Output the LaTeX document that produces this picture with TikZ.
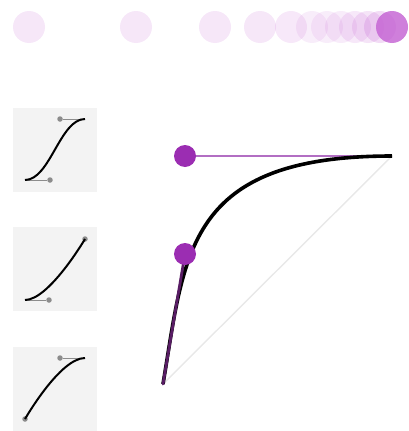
\documentclass[tikz,border=0pt]{standalone}
\usetikzlibrary{positioning,calc}
\definecolor{easePurple}{RGB}{155,45,178}
\definecolor{easeDark}{RGB}{88,28,100}
\definecolor{easeLight}{RGB}{178,110,195}
\definecolor{easeGhost}{RGB}{195,95,210}
\definecolor{thumbBg}{RGB}{243,243,243}

\begin{document}
\begin{tikzpicture}[x=1pt, y=-1pt,
  thumb/.style={fill=thumbBg, draw=none, minimum size=84pt, inner sep=0pt},
  knob/.style={circle, fill=easePurple, minimum size=22pt, inner sep=0pt},
  dot/.style={circle, fill=gray!90, minimum size=5.5pt, inner sep=0pt},
  ghost/.style={circle, fill=easeGhost, minimum size=32pt, inner sep=0pt},
  curve/.style={line width=3.6pt, black},
  mini/.style={line width=2pt, black},
  arm/.style={gray!90, line width=1pt}
]
\useasboundingbox (0,0) rectangle (409,431);

% moving ball frames
\foreach \x/\o in {29/0.15,136/0.15,215/0.15,260/0.15,291/0.14,312/0.11,
                   327/0.11,341/0.12,355/0.14,368/0.17,380/0.22,392/0.8}
  \node[ghost, fill opacity=\o] (g\x) at (\x,27) {};

% thumbnails
\node[thumb] (T1) at (55,150) {};
\node[thumb] (T2) at (55,269) {};
\node[thumb] (T3) at (55,389) {};

% ease-in-out
\coordinate (a1) at (25,180);
\coordinate (b1) at (85,119);
\node[dot] (p1) at (50,180) {};
\node[dot] (q1) at (60,119) {};
\draw[arm] (a1) -- (p1);
\draw[arm] (b1) -- (q1);
\draw[mini] (a1) .. controls (50,180) and (60,119) .. (b1);

% ease-in
\coordinate (a2) at (25,300);
\node[dot] (p2) at (49,300) {};
\node[dot] (b2) at (85,239) {};
\draw[arm] (a2) -- (p2);
\draw[mini] (a2) .. controls (49,300) and (85,239) .. (b2.center);

% ease-out
\node[dot] (a3) at (25,419) {};
\coordinate (b3) at (85,358);
\node[dot] (q3) at (60,358) {};
\draw[arm] (b3) -- (q3);
\draw[mini] (a3.center) .. controls (25,419) and (60,358) .. (b3);

% main curve
\coordinate (s) at (163,384);
\coordinate (e) at (392,156);
\coordinate (c1) at (185,254);
\coordinate (c2) at (185,156);
\draw[gray!18, line width=1.4pt] (s) -- (e);
\node[knob] (h2) at (c2) {};
\draw[easeLight, line width=2pt] (h2) -- (e);
\draw[curve] (s) .. controls (c1) and (c2) .. (e);
\draw[easeDark, line width=2.8pt, line cap=round] (s) -- (c1);
\node[knob] (h1) at (c1) {};
\end{tikzpicture}
\end{document}
